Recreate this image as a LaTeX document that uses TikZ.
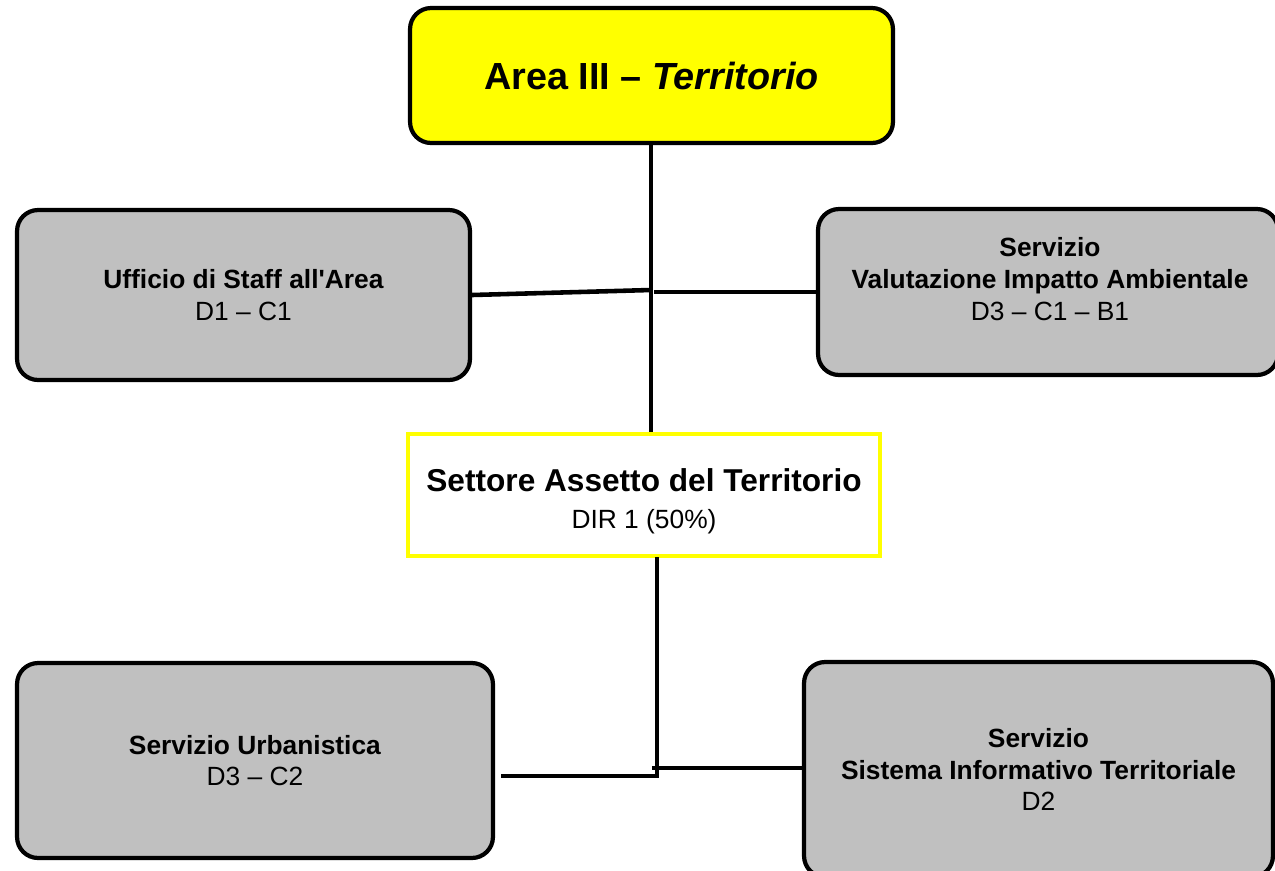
\documentclass[tikz,border=0pt]{standalone}
\usepackage{fontspec}
\setmainfont{Liberation Sans}
\usetikzlibrary{positioning}
\definecolor{areaYellow}{RGB}{255,255,0}
\definecolor{officeGray}{RGB}{192,192,192}

\begin{document}
\begin{tikzpicture}[x = 0.02cm, y = -0.02cm, font=\fontsize{15}{18}\selectfont]
	\tikzstyle{areaStyle} = [shape = rectangle, rounded corners = 0.42cm, draw, line width = 2.4pt, fill = areaYellow, minimum width = 9.66cm, minimum height = 2.7cm, align = center]
	\tikzstyle{officeStyle} = [shape = rectangle, rounded corners = 0.42cm, draw, line width = 2.4pt, fill = officeGray, align = center]
	\tikzstyle{sectorStyle} = [shape = rectangle, draw = areaYellow, line width = 2.6pt, fill = white, minimum width = 9.44cm, minimum height = 2.44cm]
	\tikzstyle{textStyle} = [align = center, inner sep = 0pt]
	\tikzstyle{linkStyle} = [line width = 2.6pt]
	\useasboundingbox (0,0) rectangle (1275,870);
	\clip (0,0) rectangle (1275,870);
	\node[areaStyle] (area) at (651.5, 75.5) {\fontsize{21.5}{26}\selectfont\bfseries Area III -- \textit{Territorio}};
	\node[officeStyle, minimum width = 9.06cm, minimum height = 3.4cm] (staff) at (243.5, 295) {\textbf{Ufficio di Staff all\textquotesingle Area}\\D1 -- C1};
	\node[officeStyle, minimum width = 9.2cm, minimum height = 3.32cm] (via) at (1048, 292) {};
	\node[textStyle] (viaText) at (1050, 279) {\textbf{Servizio}\\\textbf{Valutazione Impatto Ambientale}\\D3 -- C1 -- B1};
	\node[sectorStyle] (settore) at (644, 495) {};
	\node[textStyle] (settoreText) at (644, 501) {{\fontsize{18}{21}\selectfont\bfseries Settore Assetto del Territorio}\\[2.8pt]DIR 1 (50\%)};
	\node[officeStyle, minimum width = 9.52cm, minimum height = 3.9cm] (urb) at (255, 760.5) {\textbf{Servizio Urbanistica}\\D3 -- C2};
	\node[officeStyle, minimum width = 9.38cm, minimum height = 4.3cm] (sit) at (1038.5, 769.5) {\textbf{Servizio}\\\textbf{Sistema Informativo Territoriale}\\D2};
	% links
	\coordinate (staffJoin) at (651, 290);
	\coordinate (viaJoin) at (654, 292);
	\coordinate (lowTop) at (657, 557);
	\coordinate (lowJoin) at (657, 776);
	\coordinate (urbEnd) at (501, 776);
	\coordinate (sitJoin) at (652, 768);
	\draw[linkStyle] (area.south -| staffJoin) -- (settore.north -| staffJoin);
	\draw[linkStyle] (staff.east) -- (staffJoin);
	\draw[linkStyle] (viaJoin) -- (via.west |- viaJoin);
	\draw[linkStyle] (lowTop) -- (lowJoin) -- (urbEnd);
	\draw[linkStyle] (sitJoin) -- (sit.west |- sitJoin);
\end{tikzpicture}
\end{document}
